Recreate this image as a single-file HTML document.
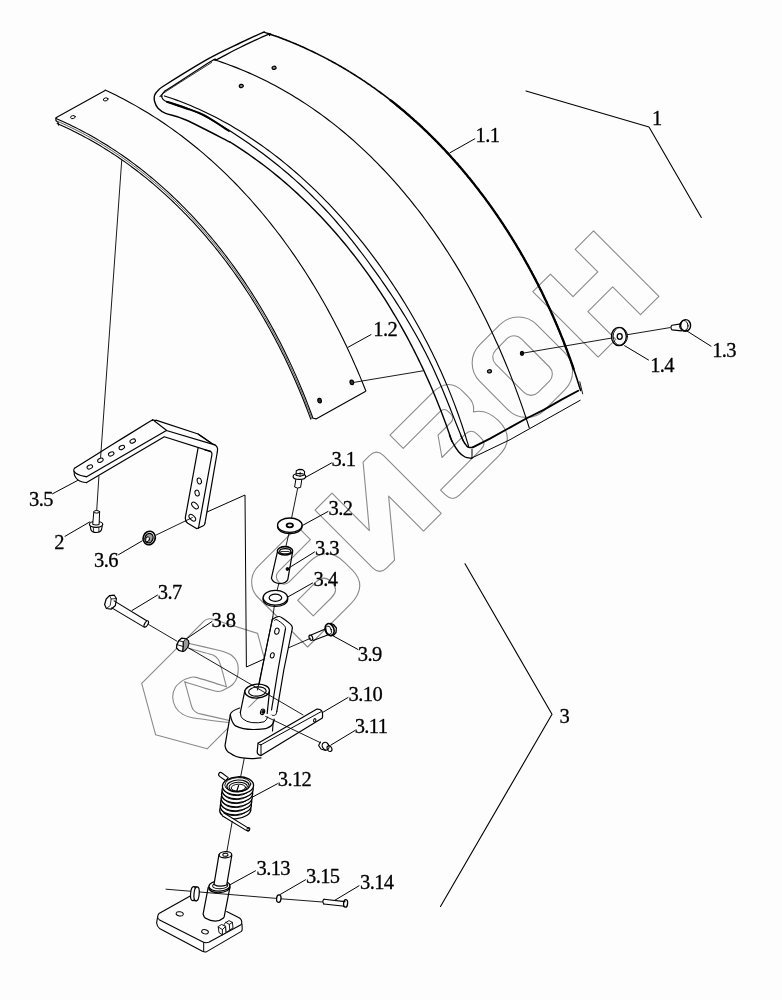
<!DOCTYPE html>
<html><head><meta charset="utf-8"><style>
html,body{margin:0;padding:0;background:#fcfdfc;}
svg{display:block;}
text{font-family:"Liberation Serif",serif;fill:#000;stroke:#000;stroke-width:0.3px;}
svg{will-change:transform;}
.wm{font-family:"Liberation Sans",sans-serif;font-weight:bold;}
</style></head><body>
<svg width="782" height="1000" viewBox="0 0 782 1000" fill="none" stroke-linecap="round" stroke-linejoin="round">
<g stroke="#8a8a8a" stroke-width="1.1" fill="none"><path d="M187.0 643.0 C191.5 644.0 215.3 649.4 220.6 650.7 C225.9 652.0 225.5 652.4 227.0 653.0 C228.5 653.6 230.5 654.4 231.8 655.5 C233.1 656.6 235.6 659.4 236.5 661.0 C237.4 662.6 238.1 665.3 238.2 667.5 C238.3 669.7 237.8 675.1 237.1 677.4 C236.4 679.7 234.2 683.0 232.7 684.5 C231.2 686.0 227.6 688.1 225.5 689.0 C223.4 689.9 222.0 692.2 216.6 691.3 C211.2 690.4 189.0 683.2 184.8 681.9"/><path d="M184.8 681.9 C185.5 684.3 190.6 703.2 191.5 706.0 C192.4 708.8 192.9 709.3 193.5 710.0 C194.1 710.7 196.2 712.4 197.0 712.8 C197.8 713.2 197.7 713.3 201.3 714.1 C204.9 714.9 229.6 720.5 232.7 721.2"/><path d="M188.9 648.4 C191.3 649.1 210.1 653.9 213.0 655.0 C215.9 656.1 217.5 658.3 218.3 659.5 C219.1 660.7 220.2 663.9 221.0 666.6 C221.8 669.3 225.9 684.8 226.4 686.8"/><path d="M226.4 686.8 C222.3 685.5 201.0 678.6 196.0 677.4 C191.0 676.2 190.7 677.6 189.0 678.0 C187.3 678.4 185.2 678.9 183.4 680.1 C181.6 681.3 176.8 684.9 175.4 687.2 C174.0 689.5 172.7 694.5 172.7 697.1 C172.7 699.7 174.1 704.6 175.4 706.9 C176.7 709.2 180.2 712.7 182.5 714.1 C184.8 715.5 185.7 716.5 192.4 717.7 C199.1 718.9 227.3 722.3 232.7 723.0"/></g><g transform="rotate(-45)" stroke="#8a8a8a" stroke-width="1.1" fill="none" stroke-linejoin="round" ><path d="M170.5 583 H195.4 V615 H230.4 V583 H256.4 V675.4 H230.4 V636 H195.4 V675.4 H170.5 Z"/><path d="M95.5 583.0 H124.0 A26.0 26.0 0 0 1 150.0 609.0 V649.0 A26.0 26.0 0 0 1 124.0 675.0 H95.5 A26.0 26.0 0 0 1 69.5 649.0 V609.0 A26.0 26.0 0 0 1 95.5 583.0 Z"/><path d="M103.0 598.0 H119.0 A10.0 10.0 0 0 1 129.0 608.0 V648.0 A10.0 10.0 0 0 1 119.0 658.0 H103.0 A10.0 10.0 0 0 1 93.0 648.0 V608.0 A10.0 10.0 0 0 1 103.0 598.0 Z"/><path d="M-32 583.5 L28 583.5 Q50.5 583.5 50.5 604 L50.5 612 Q50.5 621 43.5 626 Q55 633 55 650 Q55 675 30 675 L-25 675 Q-35 675 -35 665 L-35 658 L22 658 Q30.5 658 30.5 650 L30.5 645 Q30.5 636 22 636 L-11 636 L2 617.5 L20 617.5 Q26 617.5 26 611 L26 608 Q26 602.2 20 602.2 L-32 602.2 Z"/><path d="M-138 583.5 L-114 583.5 L-114 636.4 L-70 583.5 L-61 583.5 Q-51 583.5 -51 593.5 L-51 675 L-76 675 L-76 625.6 L-117 675 L-128 675 Q-138 675 -138 665 Z"/><path d="M-240 605 A22 22 0 0 1 -218 583 L-166 583 Q-162 583 -162 587 L-162 601 L-207 601 A7.5 7.5 0 0 0 -207 616 L-180 616 Q-154 616 -154 642 L-154 652 Q-154 675 -180 675 L-240 675 Z"/><path d="M-214 635 L-188 635 Q-177 635 -177 646 Q-177 657 -188 657 L-214 657 Z"/><path d="M-383 583.4 L-295 583.4 Q-290.5 583.4 -288 587.5 L-265.7 630 L-290 672 Q-292.5 676 -297 676 L-383 676 L-409.5 629.5 Z"/></g>
<path d="M105.16 90.07 L108.86 91.79 L112.54 93.56 L116.20 95.36 L119.83 97.19 L123.45 99.06 L127.03 100.96 L130.60 102.90 L134.14 104.87 L137.67 106.87 L141.16 108.91 L144.64 110.98 L148.09 113.08 L151.53 115.22 L154.93 117.38 L158.32 119.58 L161.68 121.80 L165.03 124.06 L168.34 126.35 L171.64 128.67 L174.91 131.02 L178.16 133.40 L181.39 135.81 L184.60 138.24 L187.78 140.71 L190.94 143.20 L194.08 145.72 L197.20 148.27 L200.29 150.84 L203.36 153.45 L206.41 156.08 L209.44 158.73 L212.44 161.41 L215.42 164.12 L218.38 166.85 L221.32 169.61 L224.23 172.39 L227.13 175.20 L230.00 178.03 L232.84 180.88 L235.67 183.76 L238.47 186.66 L241.25 189.58 L244.01 192.53 L246.74 195.50 L249.45 198.49 L252.15 201.50 L254.81 204.53 L257.46 207.59 L260.08 210.66 L262.68 213.75 L265.26 216.87 L267.82 220.00 L270.35 223.16 L272.86 226.33 L275.35 229.52 L277.82 232.73 L280.27 235.95 L282.69 239.20 L285.09 242.46 L287.47 245.74 L289.82 249.04 L292.15 252.35 L294.47 255.68 L296.75 259.02 L299.02 262.38 L301.27 265.76 L303.49 269.15 L305.69 272.55 L307.87 275.97 L310.02 279.40 L312.15 282.85 L314.26 286.31 L316.35 289.78 L318.42 293.26 L320.46 296.76 L322.49 300.27 L324.49 303.79 L326.46 307.32 L328.42 310.86 L330.35 314.42 L332.26 317.98 L334.15 321.55 L336.02 325.14 L337.86 328.73 L339.69 332.33 L341.49 335.94 L343.27 339.56 L345.02 343.19 L346.76 346.83 L348.47 350.47 L350.16 354.12 L351.83 357.78 L353.47 361.44 L355.09 365.11 L356.70 368.78 L358.28 372.47 L359.83 376.15 L361.37 379.84 L362.88 383.54 L364.37 387.24 L365.84 390.94" stroke="#000000" stroke-width="1.1" fill="none" />
<path d="M365.3 391.4 L316.0 418.9 L313.5 418.2" stroke="#000000" stroke-width="1.1" fill="none" />
<path d="M105.1 90.5 L55.9 117.7 L55.9 120.5 L58.2 122.6 L58.6 125.2" stroke="#000000" stroke-width="1.1" fill="none" />
<path d="M56.04 118.48 L58.85 119.70 L61.64 120.94 L64.41 122.21 L67.18 123.50 L69.93 124.81 L72.67 126.14 L75.39 127.49 L78.10 128.87 L80.80 130.26 L83.49 131.68 L86.16 133.12 L88.82 134.57 L91.47 136.05 L94.10 137.55 L96.72 139.07 L99.33 140.60 L101.92 142.16 L104.51 143.74 L107.07 145.34 L109.63 146.95 L112.17 148.59 L114.70 150.24 L117.21 151.91 L119.72 153.61 L122.21 155.32 L124.68 157.04 L127.15 158.79 L129.59 160.56 L132.03 162.34 L134.45 164.14 L136.86 165.96 L139.26 167.79 L141.64 169.65 L144.01 171.52 L146.37 173.40 L148.72 175.31 L151.05 177.23 L153.36 179.17 L155.67 181.12 L157.96 183.09 L160.24 185.07 L162.50 187.08 L164.75 189.09 L166.99 191.13 L169.21 193.18 L171.42 195.24 L173.62 197.32 L175.80 199.41 L177.98 201.52 L180.13 203.64 L182.28 205.78 L184.41 207.93 L186.53 210.10 L188.63 212.28 L190.72 214.47 L192.80 216.68 L194.86 218.90 L196.91 221.14 L198.95 223.38 L200.97 225.65 L202.98 227.92 L204.98 230.21 L206.96 232.51 L208.93 234.82 L210.89 237.14 L212.83 239.48 L214.76 241.83 L216.68 244.19 L218.58 246.56 L220.47 248.94 L222.35 251.34 L224.21 253.74 L226.06 256.16 L227.89 258.59 L229.71 261.03 L231.52 263.48 L233.31 265.94 L235.10 268.41 L236.86 270.89 L238.62 273.38 L240.36 275.88 L242.08 278.39 L243.80 280.91 L245.50 283.43 L247.18 285.97 L248.85 288.52 L250.51 291.07 L252.16 293.64 L253.79 296.21 L255.41 298.79 L257.01 301.38 L258.60 303.98 L260.18 306.59 L261.74 309.20 L263.29 311.82 L264.83 314.45 L266.35 317.09 L267.86 319.73 L269.35 322.38 L270.83 325.04 L272.30 327.70 L273.75 330.37 L275.19 333.05 L276.62 335.73 L278.03 338.42 L279.43 341.12 L280.82 343.82 L282.19 346.52 L283.54 349.24 L284.89 351.95 L286.22 354.68 L287.53 357.40 L288.84 360.14 L290.12 362.87 L291.40 365.61 L292.66 368.36 L293.91 371.11 L295.14 373.86 L296.36 376.62 L297.56 379.38 L298.76 382.15 L299.93 384.92 L301.10 387.69 L302.25 390.47 L303.38 393.25 L304.51 396.03 L305.61 398.81 L306.71 401.60 L307.79 404.39 L308.86 407.18 L309.91 409.97 L310.95 412.76 L311.97 415.56 L312.98 418.36" stroke="#000000" stroke-width="1.1" fill="none" />
<path d="M58.04 121.53 L60.82 122.76 L63.58 124.02 L66.33 125.29 L69.07 126.59 L71.80 127.91 L74.51 129.25 L77.21 130.61 L79.90 131.99 L82.58 133.40 L85.24 134.82 L87.89 136.26 L90.52 137.73 L93.15 139.21 L95.76 140.72 L98.35 142.24 L100.94 143.79 L103.51 145.35 L106.07 146.94 L108.61 148.54 L111.15 150.16 L113.67 151.81 L116.17 153.47 L118.67 155.14 L121.15 156.84 L123.62 158.56 L126.07 160.29 L128.52 162.04 L130.94 163.81 L133.36 165.60 L135.76 167.41 L138.15 169.23 L140.53 171.07 L142.89 172.93 L145.24 174.80 L147.58 176.69 L149.91 178.60 L152.22 180.53 L154.52 182.47 L156.80 184.42 L159.07 186.40 L161.33 188.39 L163.58 190.39 L165.81 192.41 L168.03 194.45 L170.24 196.50 L172.43 198.57 L174.61 200.65 L176.78 202.74 L178.93 204.85 L181.07 206.98 L183.20 209.12 L185.32 211.27 L187.42 213.44 L189.50 215.62 L191.58 217.82 L193.64 220.03 L195.69 222.25 L197.72 224.49 L199.74 226.74 L201.75 229.00 L203.75 231.28 L205.73 233.56 L207.70 235.87 L209.65 238.18 L211.59 240.50 L213.52 242.84 L215.44 245.19 L217.34 247.55 L219.22 249.92 L221.10 252.31 L222.96 254.70 L224.81 257.11 L226.64 259.53 L228.46 261.95 L230.27 264.39 L232.07 266.84 L233.85 269.30 L235.61 271.77 L237.37 274.25 L239.11 276.74 L240.83 279.24 L242.55 281.75 L244.25 284.27 L245.93 286.80 L247.61 289.33 L249.27 291.88 L250.91 294.43 L252.54 297.00 L254.16 299.57 L255.77 302.15 L257.36 304.74 L258.94 307.33 L260.50 309.94 L262.05 312.55 L263.59 315.17 L265.12 317.79 L266.63 320.43 L268.12 323.07 L269.60 325.72 L271.07 328.37 L272.53 331.03 L273.97 333.70 L275.40 336.38 L276.81 339.06 L278.21 341.74 L279.60 344.44 L280.98 347.13 L282.34 349.84 L283.68 352.55 L285.01 355.26 L286.33 357.98 L287.64 360.70 L288.93 363.43 L290.21 366.17 L291.47 368.90 L292.72 371.64 L293.96 374.39 L295.18 377.14 L296.39 379.90 L297.58 382.65 L298.76 385.41 L299.93 388.18 L301.08 390.95 L302.22 393.72 L303.35 396.49 L304.46 399.27 L305.56 402.05 L306.64 404.83 L307.71 407.61 L308.77 410.40 L309.81 413.18 L310.84 415.97 L311.85 418.76" stroke="#333" stroke-width="0.8" fill="none" />
<path d="M57.15 123.54 L59.91 124.76 L62.67 126.00 L65.41 127.26 L68.13 128.54 L70.84 129.85 L73.55 131.17 L76.23 132.52 L78.91 133.89 L81.57 135.28 L84.22 136.69 L86.86 138.12 L89.49 139.57 L92.10 141.04 L94.70 142.53 L97.29 144.04 L99.86 145.57 L102.42 147.12 L104.97 148.69 L107.51 150.28 L110.03 151.88 L112.54 153.51 L115.04 155.16 L117.53 156.82 L120.00 158.50 L122.46 160.20 L124.91 161.92 L127.34 163.66 L129.76 165.41 L132.17 167.19 L134.57 168.98 L136.95 170.79 L139.32 172.61 L141.68 174.46 L144.02 176.32 L146.36 178.19 L148.67 180.09 L150.98 182.00 L153.27 183.92 L155.55 185.87 L157.82 187.82 L160.08 189.80 L162.32 191.79 L164.55 193.80 L166.76 195.82 L168.96 197.86 L171.15 199.91 L173.33 201.98 L175.49 204.06 L177.64 206.16 L179.78 208.27 L181.91 210.39 L184.02 212.53 L186.12 214.69 L188.20 216.86 L190.27 219.04 L192.33 221.24 L194.38 223.45 L196.41 225.67 L198.43 227.91 L200.44 230.16 L202.43 232.42 L204.41 234.69 L206.38 236.98 L208.33 239.28 L210.27 241.59 L212.20 243.92 L214.12 246.25 L216.02 248.60 L217.90 250.96 L219.78 253.33 L221.64 255.72 L223.49 258.11 L225.32 260.52 L227.14 262.93 L228.95 265.36 L230.75 267.80 L232.53 270.25 L234.30 272.70 L236.05 275.17 L237.79 277.65 L239.52 280.14 L241.24 282.64 L242.94 285.14 L244.63 287.66 L246.30 290.19 L247.96 292.72 L249.61 295.26 L251.24 297.82 L252.86 300.38 L254.47 302.95 L256.07 305.52 L257.65 308.11 L259.21 310.70 L260.77 313.30 L262.31 315.91 L263.83 318.53 L265.35 321.15 L266.85 323.79 L268.33 326.42 L269.80 329.07 L271.26 331.72 L272.71 334.38 L274.14 337.04 L275.56 339.71 L276.96 342.39 L278.35 345.07 L279.73 347.76 L281.09 350.46 L282.44 353.15 L283.78 355.86 L285.10 358.57 L286.41 361.28 L287.71 364.00 L288.99 366.73 L290.25 369.46 L291.51 372.19 L292.75 374.93 L293.98 377.67 L295.19 380.41 L296.39 383.16 L297.57 385.92 L298.75 388.67 L299.90 391.43 L301.05 394.19 L302.18 396.96 L303.29 399.73 L304.40 402.50 L305.49 405.27 L306.56 408.05 L307.62 410.83 L308.67 413.60 L309.70 416.39 L310.72 419.17" stroke="#000000" stroke-width="1.1" fill="none" />
<ellipse cx="105.7" cy="99.4" rx="2.4" ry="1.5" transform="rotate(-15.0 105.7 99.4)" stroke="#000000" stroke-width="0.9" fill="none"/>
<ellipse cx="72.9" cy="117.1" rx="2.4" ry="1.5" transform="rotate(-15.0 72.9 117.1)" stroke="#000000" stroke-width="0.9" fill="none"/>
<ellipse cx="351.8" cy="382.4" rx="1.8" ry="2.3" transform="rotate(-10.0 351.8 382.4)" stroke="#000000" stroke-width="1.2" fill="#333"/>
<ellipse cx="319.6" cy="400.7" rx="1.8" ry="2.3" transform="rotate(-10.0 319.6 400.7)" stroke="#000000" stroke-width="1.2" fill="#333"/>
<path d="M270.9 34.2 C269.9 33.9 266.7 32.8 265.2 32.6 C263.7 32.4 266.2 31.2 262.0 32.9 C257.8 34.6 248.8 38.8 240.0 43.0 C231.2 47.2 221.3 51.5 209.0 58.4 C196.7 65.3 174.4 79.2 166.0 84.5 C157.6 89.8 160.4 88.2 158.5 90.0 C156.6 91.8 155.2 93.4 154.6 95.4 C154.0 97.4 154.1 99.6 154.7 101.8 C155.3 104.0 156.4 106.6 158.2 108.5 C160.0 110.4 161.0 111.5 165.6 113.4 C170.2 115.3 175.3 115.2 186.0 120.0 C196.7 124.8 222.7 138.4 230.0 142.1" stroke="#000000" stroke-width="1.4" fill="none" />
<path d="M229.97 141.97 L233.42 144.15 L236.85 146.36 L240.26 148.59 L243.64 150.86 L247.00 153.16 L250.34 155.48 L253.65 157.83 L256.94 160.22 L260.20 162.63 L263.44 165.06 L266.66 167.53 L269.85 170.02 L273.02 172.54 L276.17 175.09 L279.29 177.66 L282.39 180.26 L285.46 182.89 L288.51 185.54 L291.54 188.22 L294.55 190.92 L297.53 193.64 L300.48 196.40 L303.42 199.17 L306.33 201.97 L309.21 204.80 L312.08 207.64 L314.92 210.51 L317.73 213.41 L320.52 216.32 L323.29 219.26 L326.04 222.22 L328.76 225.21 L331.46 228.21 L334.13 231.24 L336.78 234.28 L339.41 237.35 L342.02 240.44 L344.60 243.55 L347.16 246.67 L349.69 249.82 L352.20 252.99 L354.69 256.18 L357.15 259.38 L359.59 262.61 L362.01 265.85 L364.40 269.11 L366.77 272.39 L369.12 275.69 L371.45 279.00 L373.75 282.33 L376.02 285.68 L378.28 289.04 L380.51 292.42 L382.71 295.82 L384.90 299.23 L387.06 302.65 L389.20 306.09 L391.31 309.55 L393.40 313.02 L395.47 316.51 L397.51 320.01 L399.53 323.52 L401.53 327.05 L403.51 330.59 L405.46 334.14 L407.39 337.70 L409.29 341.28 L411.17 344.87 L413.03 348.47 L414.87 352.09 L416.68 355.71 L418.47 359.35 L420.23 362.99 L421.98 366.65 L423.70 370.32 L425.39 373.99 L427.07 377.68 L428.72 381.37 L430.34 385.08 L431.95 388.79 L433.53 392.52 L435.09 396.25 L436.62 399.98 L438.13 403.73 L439.62 407.48 L441.09 411.24 L442.53 415.01 L443.95 418.79 L445.35 422.57 L446.72 426.35 L448.07 430.15 L449.40 433.95 L450.70 437.75 L451.98 441.56" stroke="#000000" stroke-width="1.4" fill="none" />
<path d="M449.5 435.0 C449.9 436.1 450.7 438.8 452.2 441.6 C453.7 444.4 456.5 449.2 458.6 451.8 C460.7 454.4 462.9 455.9 465.0 457.0 C467.1 458.1 470.3 458.0 471.4 458.2" stroke="#000000" stroke-width="1.4" fill="none" />
<path d="M471.4 458.2 L510.0 439.7 L580.2 400.3" stroke="#000000" stroke-width="1.0" fill="none" />
<path d="M269.6 35.5 C269.2 35.4 272.0 32.8 267.1 34.8 C262.2 36.8 248.4 43.4 240.0 47.5 C231.6 51.6 221.4 57.4 216.7 59.6 C212.0 61.9 219.4 56.3 211.6 61.0 C203.8 65.7 177.9 82.7 170.0 87.8 C162.1 92.9 165.7 90.3 164.3 91.6 C162.9 92.9 161.9 94.1 161.7 95.4 C161.5 96.7 162.1 98.2 163.0 99.3 C163.9 100.4 164.1 100.6 166.9 101.8 C169.7 103.0 177.8 105.7 180.0 106.5" stroke="#000000" stroke-width="1.25" fill="none" />
<path d="M167.00 101.59 L170.94 102.62 L174.83 103.76 L178.68 105.01 L182.49 106.35 L186.26 107.78 L189.99 109.30 L193.69 110.90 L197.35 112.58 L200.98 114.32 L204.57 116.14 L208.14 118.02 L211.69 119.96 L215.20 121.95 L218.70 123.99 L222.17 126.07 L225.62 128.19 L229.05 130.34 L232.47 132.52 L235.87 134.73 L239.25 136.96 L242.62 139.22 L245.97 141.51 L249.30 143.82 L252.61 146.15 L255.91 148.52 L259.19 150.91 L262.45 153.32 L265.68 155.76 L268.90 158.23 L272.10 160.72 L275.28 163.24 L278.44 165.78 L281.57 168.35 L284.68 170.95 L287.78 173.57 L290.84 176.22 L293.89 178.89 L296.91 181.59 L299.91 184.31 L302.88 187.06 L305.83 189.83 L308.76 192.63 L311.65 195.46 L314.53 198.31 L317.37 201.19 L320.19 204.09 L322.99 207.02 L325.75 209.97 L328.49 212.94 L331.21 215.94 L333.90 218.97 L336.57 222.01 L339.21 225.07 L341.83 228.16 L344.43 231.27 L347.00 234.39 L349.56 237.53 L352.09 240.69 L354.60 243.87 L357.10 247.07 L359.57 250.28 L362.03 253.50 L364.47 256.74 L366.89 260.00 L369.29 263.26 L371.68 266.54 L374.05 269.83 L376.41 273.13 L378.75 276.45 L381.08 279.77 L383.39 283.10 L385.68 286.45 L387.96 289.80 L390.22 293.17 L392.47 296.54 L394.69 299.93 L396.90 303.33 L399.08 306.74 L401.24 310.17 L403.39 313.61 L405.51 317.06 L407.60 320.52 L409.68 324.00 L411.72 327.49 L413.75 330.99 L415.75 334.51 L417.72 338.04 L419.66 341.58 L421.58 345.14 L423.47 348.72 L425.33 352.31 L427.16 355.92 L428.96 359.54 L430.73 363.18 L432.46 366.83 L434.17 370.50 L435.84 374.19 L437.48 377.89 L439.10 381.60 L440.69 385.33 L442.26 389.06 L443.82 392.80 L445.35 396.56 L446.88 400.31 L448.39 404.08 L449.90 407.84 L451.41 411.61 L452.91 415.38 L454.41 419.14 L455.92 422.91 L457.43 426.67 L458.95 430.42 L460.49 434.17 L462.04 437.91 L463.60 441.64" stroke="#000000" stroke-width="1.2" fill="none" />
<path d="M166.9 101.8 C169.9 102.8 178.8 105.8 185.0 108.0 C191.2 110.2 196.7 111.4 204.0 115.2 C211.3 119.0 224.8 128.4 229.0 131.0" stroke="#000000" stroke-width="1.9" fill="none" />
<path d="M461.0 436.0 C461.4 436.9 462.8 440.0 463.7 441.6 C464.6 443.2 465.5 444.4 466.3 445.4 C467.1 446.4 467.4 447.1 468.5 447.4 C469.6 447.7 472.0 447.4 472.7 447.4" stroke="#000000" stroke-width="1.4" fill="none" />
<path d="M211.6 62.5 C203.6 67.6 171.7 87.6 163.5 93.2 C155.3 98.8 162.7 95.5 162.5 96.0" stroke="#000000" stroke-width="0.8" fill="none" />
<path d="M164.43 95.96 L168.30 97.23 L172.16 98.54 L175.99 99.90 L179.80 101.31 L183.59 102.77 L187.35 104.27 L191.10 105.81 L194.82 107.41 L198.52 109.04 L202.20 110.72 L205.85 112.44 L209.48 114.20 L213.10 116.00 L216.68 117.85 L220.25 119.73 L223.80 121.66 L227.32 123.62 L230.82 125.62 L234.30 127.66 L237.76 129.74 L241.19 131.85 L244.60 134.00 L247.99 136.18 L251.36 138.40 L254.71 140.65 L258.03 142.94 L261.33 145.26 L264.61 147.61 L267.87 149.99 L271.10 152.40 L274.32 154.84 L277.51 157.31 L280.68 159.81 L283.82 162.34 L286.95 164.90 L290.05 167.49 L293.13 170.10 L296.19 172.74 L299.22 175.41 L302.24 178.10 L305.23 180.82 L308.20 183.57 L311.15 186.34 L314.07 189.13 L316.97 191.95 L319.86 194.79 L322.71 197.66 L325.55 200.55 L328.37 203.46 L331.16 206.40 L333.93 209.35 L336.68 212.33 L339.41 215.33 L342.11 218.35 L344.79 221.40 L347.45 224.46 L350.09 227.54 L352.71 230.64 L355.31 233.76 L357.88 236.90 L360.43 240.06 L362.96 243.23 L365.46 246.43 L367.95 249.63 L370.41 252.86 L372.85 256.10 L375.27 259.36 L377.67 262.64 L380.04 265.93 L382.40 269.23 L384.73 272.55 L387.04 275.88 L389.32 279.23 L391.59 282.59 L393.83 285.96 L396.05 289.35 L398.25 292.75 L400.42 296.17 L402.58 299.60 L404.71 303.04 L406.81 306.49 L408.90 309.96 L410.96 313.44 L412.99 316.94 L415.01 320.45 L417.00 323.97 L418.96 327.50 L420.90 331.04 L422.82 334.60 L424.72 338.17 L426.59 341.75 L428.43 345.34 L430.25 348.95 L432.05 352.57 L433.82 356.20 L435.57 359.84 L437.29 363.49 L438.99 367.15 L440.66 370.83 L442.31 374.52 L443.93 378.22 L445.53 381.92 L447.10 385.64 L448.65 389.37 L450.17 393.12 L451.66 396.87 L453.13 400.63 L454.57 404.40 L455.99 408.19 L457.38 411.98 L458.74 415.79 L460.08 419.60 L461.39 423.42 L462.67 427.26 L463.92 431.10 L465.15 434.96 L466.36 438.82 L467.53 442.69 L468.68 446.57" stroke="#000000" stroke-width="1.15" fill="none" />
<path d="M472.7 447.4 L490.0 438.6 L525.8 418.8 L543.7 409.9 L561.6 399.6 L578.2 390.7" stroke="#000000" stroke-width="1.8" fill="none" />
<path d="M472.0 449.3 L472.0 458.2" stroke="#000000" stroke-width="1.0"/>
<path d="M270.6 34.4 L272.2 34.9 L273.8 35.5 L275.3 36.0 L276.9 36.6 L278.5 37.1 L280.0 37.7 L281.6 38.3 L283.1 38.9 L284.7 39.5 L286.2 40.1 L287.7 40.7 L289.3 41.3 L290.8 41.9 L292.3 42.6 L293.9 43.2 L295.4 43.8 L296.9 44.5 L298.4 45.1 L299.9 45.8 L301.4 46.5 L302.9 47.1 L304.5 47.8 L305.9 48.5 L307.4 49.2 L308.9 49.9 L310.4 50.6 L311.9 51.3 L313.4 52.0 L314.9 52.7 L316.3 53.4 L317.8 54.1 L319.3 54.9 L320.7 55.6 L322.2 56.4 L323.7 57.1 L325.1 57.9 L326.6 58.6 L328.0 59.4 L329.4 60.2 L330.9 60.9 L332.3 61.7 L333.7 62.5 L335.2 63.3 L336.6 64.1 L338.0 64.9 L339.4 65.7 L340.9 66.5 L342.3 67.4 L343.7 68.2 L345.1 69.0 L346.5 69.9 L347.9 70.7 L349.3 71.6 L350.7 72.4 L352.0 73.3 L353.4 74.1 L354.8 75.0 L356.2 75.9 L357.6 76.8 L358.9 77.6 L360.3 78.5 L361.7 79.4 L363.0 80.3 L364.4 81.2 L365.7 82.1 L367.1 83.1 L368.4 84.0 L369.8 84.9 L371.1 85.8 L372.4 86.8 L373.8 87.7 L375.1 88.7 L376.4 89.6 L377.7 90.6 L379.0 91.5 L380.4 92.5 L381.7 93.5 L383.0 94.4 L384.3 95.4 L385.6 96.4 L386.9 97.4 L388.2 98.4 L389.4 99.4 L390.7 100.4 L392.0 101.4 L393.3 102.4 L394.6 103.4 L395.8 104.4 L397.1 105.5 L398.4 106.5 L399.6 107.5 L400.9 108.6 L402.1 109.6 L403.4 110.7 L404.6 111.7 L405.9 112.8 L407.1 113.8 L408.3 114.9 L409.6 116.0 L410.8 117.1 L412.0 118.1 L413.2 119.2 L414.4 120.3 L415.7 121.4 L416.9 122.5 L418.1 123.6 L419.3 124.7 L420.5 125.8 L421.7 126.9 L422.8 128.0 L424.0 129.2 L425.2 130.3 L426.4 131.4 L427.6 132.5 L428.7 133.7 L429.9 134.8 L431.1 136.0 L432.2 137.1 L433.4 138.3 L434.6 139.4 L435.7 140.6 L436.9 141.8 L438.0 142.9 L439.1 144.1 L440.3 145.3 L441.4 146.5 L442.5 147.7 L443.7 148.8 L444.8 150.0 L445.9 151.2 L447.0 152.4 L448.1 153.6 L449.2 154.8 L450.3 156.0 L451.4 157.3 L452.5 158.5 L453.6 159.7 L454.7 160.9 L455.8 162.2 L456.9 163.4 L458.0 164.6 L459.0 165.9 L460.1 167.1 L461.2 168.4 L462.2 169.6 L463.3 170.9 L464.3 172.1 L465.4 173.4 L466.4 174.6 L467.5 175.9 L468.5 177.2 L469.6 178.4 L470.6 179.7 L471.6 181.0 L472.6 182.3 L473.7 183.6 L474.7 184.9 L475.7 186.2 L476.7 187.4 L477.7 188.7 L478.7 190.0 L479.7 191.4 L480.7 192.7 L481.7 194.0 L482.7 195.3 L483.7 196.6 L484.7 197.9 L485.6 199.2 L486.6 200.6 L487.6 201.9 L488.6 203.2 L489.5 204.6 L490.5 205.9 L491.4 207.2 L492.4 208.6 L493.3 209.9 L494.3 211.3 L495.2 212.6 L496.1 214.0 L497.1 215.3 L498.0 216.7 L498.9 218.1 L499.9 219.4 L500.8 220.8 L501.7 222.2 L502.6 223.5 L503.5 224.9 L504.4 226.3 L505.3 227.7 L506.2 229.1 L507.1 230.4 L508.0 231.8 L508.9 233.2 L509.7 234.6 L510.6 236.0 L511.5 237.4 L512.3 238.8 L513.2 240.2 L514.1 241.6 L514.9 243.0 L515.8 244.4 L516.6 245.8 L517.5 247.3 L518.3 248.7 L519.2 250.1 L520.0 251.5 L520.8 252.9 L521.6 254.4 L522.5 255.8 L523.3 257.2 L524.1 258.6 L524.9 260.1 L525.7 261.5 L526.5 263.0 L527.3 264.4 L528.1 265.8 L528.9 267.3 L529.7 268.7 L530.5 270.2 L531.3 271.6 L532.0 273.1 L532.8 274.5 L533.6 276.0 L534.3 277.4 L535.1 278.9 L535.9 280.4 L536.6 281.8 L537.4 283.3 L538.1 284.7 L538.8 286.2 L539.6 287.7 L540.3 289.1 L541.1 290.6 L541.8 292.1 L542.5 293.6 L543.2 295.0 L543.9 296.5 L544.6 298.0 L545.3 299.5 L546.1 301.0 L546.8 302.5 L547.4 303.9 L548.1 305.4 L548.8 306.9 L549.5 308.4 L550.2 309.9 L550.9 311.4 L551.5 312.9 L552.2 314.4 L552.9 315.9 L553.5 317.4 L554.2 318.9 L554.8 320.4 L555.5 321.9 L556.1 323.4 L556.8 324.9 L557.4 326.4 L558.0 327.9 L558.7 329.4 L559.3 330.9 L559.9 332.4 L560.5 333.9 L561.1 335.4 L561.7 336.9 L562.4 338.5 L563.0 340.0 L563.6 341.5 L564.1 343.0 L564.7 344.5 L565.3 346.0 L565.9 347.6 L566.5 349.1 L567.1 350.6 L567.6 352.1 L568.2 353.6 L568.7 355.2 L569.3 356.7 L569.9 358.2 L570.4 359.7 L571.0 361.3 L571.5 362.8 L572.0 364.3 L572.6 365.8 L573.1 367.4 L573.6 368.9 L574.1 370.4 L574.7 372.0 L575.2 373.5 L575.7 375.0 L576.2 376.6 L576.7 378.1 L577.2 379.6 L577.7 381.2 L578.2 382.7 L578.7 384.2 L579.1 385.8 L579.6 387.3 L580.1 388.8 L580.6 390.4" stroke="#000000" stroke-width="1.6" fill="none" />
<path d="M390.7 100.4 L392.0 101.4 L393.3 102.4 L394.6 103.4 L395.8 104.4 L397.1 105.5 L398.4 106.5 L399.6 107.5 L400.9 108.6 L402.1 109.6 L403.4 110.7 L404.6 111.7 L405.9 112.8 L407.1 113.8 L408.3 114.9 L409.6 116.0 L410.8 117.1 L412.0 118.1 L413.2 119.2 L414.4 120.3 L415.7 121.4 L416.9 122.5 L418.1 123.6 L419.3 124.7 L420.5 125.8 L421.7 126.9 L422.8 128.0 L424.0 129.2 L425.2 130.3 L426.4 131.4 L427.6 132.5 L428.7 133.7 L429.9 134.8 L431.1 136.0 L432.2 137.1 L433.4 138.3 L434.6 139.4 L435.7 140.6 L436.9 141.8 L438.0 142.9 L439.1 144.1 L440.3 145.3 L441.4 146.5 L442.5 147.7 L443.7 148.8 L444.8 150.0 L445.9 151.2 L447.0 152.4 L448.1 153.6 L449.2 154.8 L450.3 156.0 L451.4 157.3 L452.5 158.5 L453.6 159.7 L454.7 160.9 L455.8 162.2 L456.9 163.4 L458.0 164.6 L459.0 165.9 L460.1 167.1 L461.2 168.4 L462.2 169.6 L463.3 170.9 L464.3 172.1 L465.4 173.4 L466.4 174.6 L467.5 175.9 L468.5 177.2 L469.6 178.4 L470.6 179.7 L471.6 181.0 L472.6 182.3 L473.7 183.6 L474.7 184.9 L475.7 186.2 L476.7 187.4 L477.7 188.7 L478.7 190.0 L479.7 191.4 L480.7 192.7 L481.7 194.0 L482.7 195.3 L483.7 196.6 L484.7 197.9 L485.6 199.2 L486.6 200.6 L487.6 201.9 L488.6 203.2 L489.5 204.6 L490.5 205.9 L491.4 207.2 L492.4 208.6 L493.3 209.9 L494.3 211.3 L495.2 212.6 L496.1 214.0 L497.1 215.3 L498.0 216.7 L498.9 218.1 L499.9 219.4 L500.8 220.8 L501.7 222.2 L502.6 223.5 L503.5 224.9 L504.4 226.3 L505.3 227.7 L506.2 229.1 L507.1 230.4 L508.0 231.8 L508.9 233.2 L509.7 234.6 L510.6 236.0 L511.5 237.4 L512.3 238.8 L513.2 240.2 L514.1 241.6 L514.9 243.0 L515.8 244.4 L516.6 245.8 L517.5 247.3 L518.3 248.7 L519.2 250.1 L520.0 251.5 L520.8 252.9 L521.6 254.4 L522.5 255.8 L523.3 257.2 L524.1 258.6 L524.9 260.1 L525.7 261.5 L526.5 263.0 L527.3 264.4 L528.1 265.8 L528.9 267.3 L529.7 268.7 L530.5 270.2 L531.3 271.6 L532.0 273.1 L532.8 274.5 L533.6 276.0 L534.3 277.4 L535.1 278.9 L535.9 280.4 L536.6 281.8 L537.4 283.3 L538.1 284.7 L538.8 286.2 L539.6 287.7 L540.3 289.1 L541.1 290.6 L541.8 292.1 L542.5 293.6 L543.2 295.0 L543.9 296.5 L544.6 298.0 L545.3 299.5 L546.1 301.0 L546.8 302.5 L547.4 303.9 L548.1 305.4 L548.8 306.9 L549.5 308.4 L550.2 309.9 L550.9 311.4 L551.5 312.9 L552.2 314.4 L552.9 315.9 L553.5 317.4 L554.2 318.9 L554.8 320.4 L555.5 321.9 L556.1 323.4 L556.8 324.9 L557.4 326.4 L558.0 327.9 L558.7 329.4 L559.3 330.9 L559.9 332.4 L560.5 333.9 L561.1 335.4 L561.7 336.9 L562.4 338.5 L563.0 340.0 L563.6 341.5 L564.1 343.0 L564.7 344.5 L565.3 346.0 L565.9 347.6 L566.5 349.1 L567.1 350.6 L567.6 352.1 L568.2 353.6 L568.7 355.2 L569.3 356.7 L569.9 358.2 L570.4 359.7 L571.0 361.3 L571.5 362.8 L572.0 364.3 L572.6 365.8 L573.1 367.4 L573.6 368.9" stroke="#000000" stroke-width="2.3" fill="none" />
<path d="M579.8 381.7 L582.7 393.9" stroke="#000000" stroke-width="0.9" fill="none" />
<path d="M214.33 59.72 L218.27 61.02 L222.19 62.36 L226.09 63.74 L229.96 65.17 L233.80 66.63 L237.63 68.13 L241.42 69.68 L245.20 71.26 L248.95 72.89 L252.68 74.55 L256.38 76.25 L260.06 77.99 L263.72 79.76 L267.35 81.58 L270.96 83.43 L274.55 85.32 L278.11 87.24 L281.65 89.20 L285.17 91.19 L288.66 93.23 L292.13 95.29 L295.57 97.39 L299.00 99.52 L302.40 101.69 L305.77 103.89 L309.12 106.13 L312.45 108.39 L315.76 110.69 L319.04 113.02 L322.30 115.39 L325.54 117.78 L328.75 120.21 L331.94 122.66 L335.11 125.15 L338.25 127.66 L341.38 130.21 L344.47 132.78 L347.55 135.38 L350.60 138.02 L353.63 140.68 L356.64 143.36 L359.62 146.08 L362.59 148.82 L365.52 151.59 L368.44 154.38 L371.33 157.20 L374.20 160.04 L377.05 162.91 L379.88 165.81 L382.68 168.73 L385.46 171.67 L388.22 174.64 L390.95 177.63 L393.66 180.64 L396.35 183.68 L399.02 186.74 L401.67 189.82 L404.29 192.92 L406.89 196.05 L409.47 199.19 L412.03 202.35 L414.56 205.54 L417.07 208.74 L419.56 211.97 L422.03 215.21 L424.47 218.47 L426.90 221.75 L429.30 225.05 L431.67 228.36 L434.03 231.70 L436.37 235.05 L438.68 238.41 L440.97 241.79 L443.24 245.19 L445.48 248.61 L447.71 252.03 L449.91 255.48 L452.09 258.94 L454.25 262.41 L456.39 265.89 L458.51 269.39 L460.60 272.90 L462.67 276.43 L464.72 279.96 L466.75 283.51 L468.76 287.07 L470.75 290.65 L472.71 294.23 L474.65 297.82 L476.57 301.43 L478.47 305.04 L480.35 308.66 L482.21 312.29 L484.04 315.94 L485.85 319.59 L487.65 323.24 L489.42 326.91 L491.17 330.58 L492.89 334.26 L494.60 337.95 L496.28 341.65 L497.95 345.35 L499.59 349.05 L501.21 352.76 L502.81 356.48 L504.39 360.20 L505.94 363.93 L507.48 367.65 L508.99 371.39 L510.49 375.13 L511.96 378.86 L513.41 382.61 L514.84 386.35 L516.25 390.10 L517.64 393.85 L519.00 397.60 L520.35 401.35 L521.67 405.10 L522.98 408.85 L524.26 412.60 L525.52 416.35 L526.76 420.10 L527.98 423.85 L529.18 427.60" stroke="#000000" stroke-width="1.15" fill="none" />
<ellipse cx="274.1" cy="67.8" rx="2.0" ry="1.6" transform="rotate(-15.0 274.1 67.8)" stroke="#000000" stroke-width="1.2" fill="#888"/>
<ellipse cx="241.3" cy="86.0" rx="2.0" ry="1.6" transform="rotate(-15.0 241.3 86.0)" stroke="#000000" stroke-width="1.2" fill="#888"/>
<ellipse cx="489.5" cy="371.3" rx="2.0" ry="1.6" transform="rotate(-15.0 489.5 371.3)" stroke="#000000" stroke-width="1.2" fill="#888"/>
<ellipse cx="522.0" cy="353.3" rx="1.6" ry="2.0" transform="rotate(0.0 522.0 353.3)" stroke="#000000" stroke-width="1.2" fill="#222"/>
<path d="M526.0 91.0 L649.0 127.0 L701.3 217.5" stroke="#000000" stroke-width="1.1" fill="none" />
<path d="M449.9 152.8 L474.8 138.8" stroke="#000000" stroke-width="1.0"/>
<path d="M348.0 347.3 L371.0 334.6" stroke="#000000" stroke-width="1.0"/>
<path d="M353.8 382.4 L423.1 370.8" stroke="#000000" stroke-width="0.9"/>
<path d="M522.0 353.3 L612.0 338.0" stroke="#000000" stroke-width="0.9"/>
<path d="M627.4 334.7 L670.0 327.6" stroke="#000000" stroke-width="0.9"/>
<path d="M624.6 345.7 L648.5 360.0" stroke="#000000" stroke-width="1.0"/>
<path d="M685.5 330.1 L711.0 346.2" stroke="#000000" stroke-width="1.0"/>
<ellipse cx="618.9" cy="336.5" rx="7.4" ry="9.2" transform="rotate(0.0 618.9 336.5)" stroke="#000000" stroke-width="1.3" fill="none"/>
<ellipse cx="620.3" cy="336.4" rx="7.2" ry="9.0" transform="rotate(0.0 620.3 336.4)" stroke="#000000" stroke-width="0.9" fill="none"/>
<ellipse cx="619.7" cy="336.5" rx="2.5" ry="2.8" transform="rotate(0.0 619.7 336.5)" stroke="#000000" stroke-width="1.3" fill="none"/>
<path d="M681 323.9 L672 325.2 Q669.8 327.3 672 329.9 L681.5 330.9" stroke="#000000" stroke-width="1.1" fill="none" />
<ellipse cx="685.6" cy="325.4" rx="5.0" ry="5.8" transform="rotate(0.0 685.6 325.4)" stroke="#000000" stroke-width="1.4" fill="none"/>
<ellipse cx="683.8" cy="325.8" rx="4.2" ry="5.3" transform="rotate(0.0 683.8 325.8)" stroke="#000000" stroke-width="1.0" fill="none"/>
<path d="M74.5 468.2 C80.8 464.3 99.5 452.6 112.0 444.8 C124.5 437.1 142.6 425.8 149.3 421.7 C156.0 417.6 151.0 420.5 152.2 420.3 C153.4 420.1 155.9 420.4 156.6 420.4" stroke="#000000" stroke-width="1.2" fill="none" />
<path d="M156.6 420.4 L198.1 434.0 L211.4 443.2" stroke="#000000" stroke-width="1.2" fill="none" />
<path d="M198.1 434.0 C200.3 435.5 208.5 441.3 211.4 443.2 C214.3 445.1 214.5 444.4 215.5 445.3 C216.5 446.2 217.2 447.3 217.5 448.4 C217.8 449.5 217.3 451.4 217.3 452.0" stroke="#000000" stroke-width="1.2" fill="none" />
<path d="M217.3 452.0 L205.0 523.0" stroke="#000000" stroke-width="1.2" fill="none" />
<path d="M154.1 420.7 L166.4 430.2" stroke="#000000" stroke-width="1.1"/>
<path d="M86.6 476.8 L166.4 430.5 L211.4 443.8 L214.5 445.0" stroke="#000000" stroke-width="1.2" fill="none" />
<path d="M86.6 482.6 L164.3 436.8 L210.4 451.4" stroke="#000000" stroke-width="1.2" fill="none" />
<path d="M205.0 450.0 C205.9 450.2 209.2 450.8 210.4 451.4 C211.6 452.0 211.7 452.6 211.9 453.5 C212.1 454.4 211.6 456.4 211.5 457.0" stroke="#000000" stroke-width="1.2" fill="none" />
<path d="M211.5 457.0 L198.5 528.0" stroke="#000000" stroke-width="1.2" fill="none" />
<path d="M198.1 447.9 L185.4 517.2 Q184.9 521.4 187.8 523.3 L196.5 528.6 L198.5 528" stroke="#000000" stroke-width="1.2" fill="none" />
<path d="M198.5 528 L203.3 525.8 Q204.8 525 205 523" stroke="#000000" stroke-width="1.2" fill="none" />
<path d="M74.5 468.2 C74.4 468.6 73.5 469.7 73.7 470.5 C73.9 471.3 74.5 472.2 75.5 473.0 C76.5 473.8 78.2 474.6 80.0 475.2 C81.8 475.8 85.5 476.5 86.6 476.8" stroke="#000000" stroke-width="1.1" fill="none" />
<path d="M74.2 471.5 C74.3 472.2 74.0 474.1 74.6 475.5 C75.2 476.9 76.7 478.9 78.0 480.0 C79.3 481.1 81.1 481.6 82.5 482.0 C83.9 482.4 85.9 482.5 86.6 482.6" stroke="#000000" stroke-width="1.1" fill="none" />
<ellipse cx="89.8" cy="466.9" rx="2.9" ry="1.9" transform="rotate(-25.0 89.8 466.9)" stroke="#000000" stroke-width="1.0" fill="none"/>
<ellipse cx="100.4" cy="460.3" rx="2.9" ry="1.9" transform="rotate(-25.0 100.4 460.3)" stroke="#000000" stroke-width="1.0" fill="none"/>
<ellipse cx="111.2" cy="453.9" rx="2.9" ry="1.9" transform="rotate(-25.0 111.2 453.9)" stroke="#000000" stroke-width="1.0" fill="none"/>
<ellipse cx="121.8" cy="447.5" rx="2.9" ry="1.9" transform="rotate(-25.0 121.8 447.5)" stroke="#000000" stroke-width="1.0" fill="none"/>
<ellipse cx="132.7" cy="441.1" rx="2.9" ry="1.9" transform="rotate(-25.0 132.7 441.1)" stroke="#000000" stroke-width="1.0" fill="none"/>
<ellipse cx="199.3" cy="481.0" rx="2.1" ry="3.0" transform="rotate(-15.0 199.3 481.0)" stroke="#000000" stroke-width="1.0" fill="none"/>
<ellipse cx="197.1" cy="493.1" rx="2.1" ry="3.0" transform="rotate(-15.0 197.1 493.1)" stroke="#000000" stroke-width="1.0" fill="none"/>
<ellipse cx="195.0" cy="505.5" rx="2.3" ry="4.1" transform="rotate(-45.0 195.0 505.5)" stroke="#000000" stroke-width="1.0" fill="none"/>
<ellipse cx="192.3" cy="517.8" rx="2.3" ry="4.1" transform="rotate(-45.0 192.3 517.8)" stroke="#000000" stroke-width="1.0" fill="none"/>
<path d="M121.7 160.6 L100.6 457.5" stroke="#000000" stroke-width="0.9"/>
<path d="M98.9 476.5 L96.7 510.5" stroke="#000000" stroke-width="0.9"/>
<path d="M52.5 493.8 L77.5 480.5" stroke="#000000" stroke-width="1.0"/>
<path d="M207.0 512.0 L245.0 495.0 L246.4 667.0 L271.0 656.0" stroke="#000000" stroke-width="1.0" fill="none" />
<path d="M156.0 535.1 L192.3 517.6" stroke="#000000" stroke-width="0.9"/>
<path d="M142.1 540.9 L118.5 554.7" stroke="#000000" stroke-width="1.0"/>
<path d="M89.8 521.9 L65.0 536.3" stroke="#000000" stroke-width="1.0"/>
<path d="M90.2 525.5 L90.8 529.5 Q92 532.5 96.2 532.5 Q100.5 532.3 101.6 529.5 L102.2 525.8" stroke="#000000" stroke-width="1.1" fill="#fcfdfc" />
<path d="M93.3 527.2 L93.6 531.5 M98.8 527.3 L98.9 532" stroke="#000000" stroke-width="0.8" fill="none" />
<ellipse cx="96.1" cy="524.3" rx="6.7" ry="3.0" transform="rotate(0.0 96.1 524.3)" stroke="#000000" stroke-width="1.2" fill="#fcfdfc"/>
<path d="M93.8 512 L92.7 524.4 Q96 525.6 99.1 524.6 L99.6 512 Z" stroke="#000000" stroke-width="1.0" fill="#fcfdfc" />
<ellipse cx="96.7" cy="511.8" rx="2.9" ry="1.3" transform="rotate(0.0 96.7 511.8)" stroke="#000000" stroke-width="1.0" fill="#fcfdfc"/>
<ellipse cx="149.2" cy="538.0" rx="6.0" ry="6.8" transform="rotate(20.0 149.2 538.0)" stroke="#000000" stroke-width="1.6" fill="#fcfdfc"/>
<ellipse cx="149.0" cy="538.2" rx="4.0" ry="4.8" transform="rotate(20.0 149.0 538.2)" stroke="#000000" stroke-width="1.3" fill="#9a9a9a"/>
<ellipse cx="147.6" cy="539.2" rx="1.8" ry="2.5" transform="rotate(20.0 147.6 539.2)" stroke="#000000" stroke-width="0.9" fill="#fcfdfc"/>
<path d="M296.3 470.8 L298.8 469.4 L302.6 469.6 L304.6 471.6 L304.4 475.0 L300.0 476.2 L296.0 475.2 L296.3 470.8" stroke="#000000" stroke-width="1.1" fill="none" />
<path d="M300.0 476.2 L300.2 472.3" stroke="#000000" stroke-width="0.8"/>
<ellipse cx="299.4" cy="476.4" rx="6.3" ry="2.9" transform="rotate(0.0 299.4 476.4)" stroke="#000000" stroke-width="1.2" fill="none"/>
<path d="M295.8 479.6 L294.6 487 Q297.4 489 300.6 487.4 L301.8 479.6" stroke="#000000" stroke-width="1.0" fill="none" />
<path d="M305.8 477.2 L331.5 463.0" stroke="#000000" stroke-width="1.0"/>
<path d="M297.6 488.6 L290.6 523.0" stroke="#000000" stroke-width="0.9"/>
<ellipse cx="289.8" cy="526.6" rx="12.3" ry="7.1" transform="rotate(0.0 289.8 526.6)" stroke="#000000" stroke-width="1.2" fill="none"/>
<ellipse cx="289.8" cy="525.2" rx="12.3" ry="7.2" transform="rotate(0.0 289.8 525.2)" stroke="#000000" stroke-width="1.3" fill="#fcfdfc"/>
<ellipse cx="289.8" cy="525.3" rx="3.2" ry="2.0" transform="rotate(0.0 289.8 525.3)" stroke="#000000" stroke-width="1.8" fill="none"/>
<path d="M302.2 525.6 L328.0 511.5" stroke="#000000" stroke-width="1.0"/>
<path d="M289.0 532.8 L285.9 546.6" stroke="#000000" stroke-width="0.9"/>
<path d="M277.4 551.8 L271.4 578.2 Q273 582.8 279.5 583.6 Q286 583.6 287.8 579.6 L292.6 551.8" stroke="#000000" stroke-width="1.2" fill="none" />
<ellipse cx="285.0" cy="550.8" rx="7.6" ry="4.2" transform="rotate(0.0 285.0 550.8)" stroke="#000000" stroke-width="1.6" fill="#fcfdfc"/>
<ellipse cx="285.2" cy="551.2" rx="5.6" ry="2.6" transform="rotate(0.0 285.2 551.2)" stroke="#000000" stroke-width="1.1" fill="none"/>
<path d="M281 551.5 L289 551.5" stroke="#000000" stroke-width="0.8" fill="none" />
<ellipse cx="287.4" cy="569.0" rx="1.3" ry="1.5" transform="rotate(0.0 287.4 569.0)" stroke="#000000" stroke-width="1.0" fill="#111"/>
<path d="M287.8 568.6 L314.5 552.0" stroke="#000000" stroke-width="1.0"/>
<path d="M278.8 583.6 L276.8 591.5" stroke="#000000" stroke-width="0.9"/>
<ellipse cx="275.4" cy="599.4" rx="12.3" ry="7.1" transform="rotate(0.0 275.4 599.4)" stroke="#000000" stroke-width="1.2" fill="none"/>
<ellipse cx="275.4" cy="597.8" rx="12.3" ry="7.4" transform="rotate(0.0 275.4 597.8)" stroke="#000000" stroke-width="1.3" fill="#fcfdfc"/>
<ellipse cx="275.4" cy="597.8" rx="6.3" ry="3.6" transform="rotate(0.0 275.4 597.8)" stroke="#000000" stroke-width="1.2" fill="none"/>
<path d="M287.8 597.0 L312.6 583.0" stroke="#000000" stroke-width="1.0"/>
<path d="M274.4 605.4 L272.8 617.0" stroke="#000000" stroke-width="0.9"/>
<path d="M272.3 619.4 L279.2 616.5 L289.5 623.4 L292.4 628.0 L276.8 711.5 L271.5 715.0 L262.0 712.0 L258.8 686.0 L261.9 670.0Z" stroke="none" stroke-width="0" fill="#fcfdfc" />
<path d="M272.3 619.4 C272.9 619.0 274.9 617.8 276.0 617.3 C277.1 616.8 278.2 616.4 279.2 616.5 C280.2 616.6 280.3 616.6 282.0 617.8 C283.7 618.9 287.9 622.1 289.5 623.4 C291.1 624.7 291.1 624.8 291.6 625.6 C292.1 626.4 292.3 627.6 292.4 628.0" stroke="#000000" stroke-width="1.2" fill="none" />
<path d="M272.3 619.4 L261.9 670.0 L258.8 686.0" stroke="#000000" stroke-width="1.2" fill="none" />
<path d="M274.5 620.5 C274.9 620.4 275.4 619.0 277.0 619.8 C278.6 620.6 282.9 624.0 284.3 625.5 C285.7 627.0 285.3 628.1 285.5 628.6" stroke="#000000" stroke-width="1.0" fill="none" />
<path d="M285.5 628.6 L278.0 670.0 L271.5 710.0" stroke="#000000" stroke-width="1.2" fill="none" />
<path d="M292.4 628.0 L283.8 670.0 L276.8 711.5" stroke="#000000" stroke-width="1.2" fill="none" />
<path d="M268.0 713.5 C268.6 713.8 270.3 715.0 271.5 715.2 C272.7 715.5 274.5 715.6 275.4 715.0 C276.3 714.4 276.6 712.1 276.8 711.5" stroke="#000000" stroke-width="1.0" fill="none" />
<ellipse cx="276.9" cy="631.2" rx="2.2" ry="3.1" transform="rotate(15.0 276.9 631.2)" stroke="#000000" stroke-width="1.0" fill="none"/>
<ellipse cx="272.3" cy="655.4" rx="1.9" ry="2.7" transform="rotate(15.0 272.3 655.4)" stroke="#000000" stroke-width="1.0" fill="none"/>
<path d="M289.0 647.6 L310.5 638.3" stroke="#000000" stroke-width="0.9"/>
<path d="M311.1 634.9 L327 628.2 M313.2 640.5 L329 634.4" stroke="#000000" stroke-width="1.1" fill="none" />
<ellipse cx="310.9" cy="637.7" rx="1.7" ry="2.7" transform="rotate(-20.0 310.9 637.7)" stroke="#000000" stroke-width="1.2" fill="none"/>
<path d="M330.5 623.3 L333.5 624.5 L336.4 628 L336 632.5 L333.5 635.4 L331 635.6" stroke="#000000" stroke-width="1.3" fill="none" />
<ellipse cx="329.6" cy="629.6" rx="4.3" ry="6.2" transform="rotate(-18.0 329.6 629.6)" stroke="#000000" stroke-width="1.6" fill="#fcfdfc"/>
<ellipse cx="328.7" cy="630.2" rx="2.6" ry="4.4" transform="rotate(-18.0 328.7 630.2)" stroke="#000000" stroke-width="0.9" fill="none"/>
<path d="M331.5 635.0 L358.0 649.5" stroke="#000000" stroke-width="1.0"/>
<path d="M106.2 599.0 L109.5 595.6 L114.3 595.2 L116.4 598.5 L115.4 605.5 L111.2 609.2 L106.4 608.5 L104.6 604.5 L106.2 599.0" stroke="#000000" stroke-width="1.2" fill="none" />
<path d="M109.5 595.6 L111.2 599 L110.2 605.6 L106.4 608.5 M111.2 599 L116.4 598.5" stroke="#000000" stroke-width="0.8" fill="none" />
<path d="M114.1 600.9 L146.7 620.7" stroke="#000000" stroke-width="1.1"/>
<path d="M111.8 607.9 L144.1 627.1" stroke="#000000" stroke-width="1.1"/>
<ellipse cx="146.3" cy="623.9" rx="1.6" ry="3.5" transform="rotate(30.0 146.3 623.9)" stroke="#000000" stroke-width="1.1" fill="none"/>
<path d="M132.0 610.5 L157.5 595.1" stroke="#000000" stroke-width="1.0"/>
<path d="M178.8 640.7 L181.5 638.2 L185.7 638.6 L188.4 640.7 L188.8 643.8 L187.6 647.3 L184.6 650.7 L182.7 651.5 L178.8 650.3 L176.5 648.0 L176.9 644.6Z" stroke="#000000" stroke-width="1.3" fill="#fcfdfc" />
<path d="M183.4 641.8 L185.7 638.6 L188.4 640.7 L188.8 643.8 L187.6 647.3 L184.6 650.7 L182.7 651.5 L183.2 646.5Z" stroke="#000000" stroke-width="0.8" fill="#9a9a9a" />
<path d="M178.8 640.7 L183.4 641.8 L183.2 646.5 L182.7 651.5 M176.9 644.6 L183.2 646.5" stroke="#000000" stroke-width="0.9" fill="none" />
<path d="M186.5 638.8 L212.0 621.5" stroke="#000000" stroke-width="1.0"/>
<path d="M230.3 714.9 L225 745.6 Q226 751.5 230.3 753.3 Q236 757.5 242.6 757.9 Q249 758.8 253.4 758.6 Q258 758.3 261 757.9 L273 731 L274.1 719 Q271 711 257 707 Q238 707 230.3 714.9 Z" stroke="none" stroke-width="0" fill="#fcfdfc" />
<path d="M230.3 714.9 L225 745.6 Q226 751.5 230.3 753.3 Q236 757.5 242.6 757.9 Q249 758.8 253.4 758.6 Q258 758.3 261 757.9" stroke="#000000" stroke-width="1.2" fill="none" />
<path d="M230.3 714.9 Q230.5 711 239.6 708" stroke="#000000" stroke-width="1.1" fill="none" />
<path d="M230.3 714.9 Q231.5 722 235 725.6 Q243 729.6 253.4 729.5 Q262 729.5 265.6 728.7 Q271 726.8 272.5 724.1 Q274.4 721.5 274.1 719" stroke="#000000" stroke-width="1.2" fill="none" />
<path d="M240.3 712.3 Q240.6 717.3 242.6 718.7 Q246.5 722 251.8 722.6 Q259 723.3 264.1 721.8 Q267 720 267.6 717" stroke="#000000" stroke-width="1.0" fill="none" />
<path d="M273.3 721.0 L272.5 731.0" stroke="#000000" stroke-width="1.1"/>
<path d="M244.9 690.3 L240.3 712.6 M269.5 691.3 L267.2 713.4" stroke="#000000" stroke-width="1.2" fill="none" />
<ellipse cx="257.2" cy="691.1" rx="12.3" ry="6.9" transform="rotate(-4.0 257.2 691.1)" stroke="#000000" stroke-width="1.3" fill="#fcfdfc"/>
<ellipse cx="257.4" cy="691.5" rx="8.8" ry="4.6" transform="rotate(-4.0 257.4 691.5)" stroke="#000000" stroke-width="1.1" fill="none"/>
<ellipse cx="262.6" cy="711.8" rx="2.0" ry="2.8" transform="rotate(20.0 262.6 711.8)" stroke="#000000" stroke-width="1.1" fill="none"/>
<ellipse cx="262.9" cy="711.8" rx="1.0" ry="1.5" transform="rotate(20.0 262.9 711.8)" stroke="#000000" stroke-width="0.9" fill="#222"/>
<path d="M258 743.3 L317 709.1 Q320.5 709 321.7 710.8 Q323 713 322.4 718 L261 755.6 Q257 754.5 257.2 751.7 L258 743.3" stroke="#000000" stroke-width="1.2" fill="#fcfdfc" />
<path d="M261 744.8 L320.9 711.8 M258 743.3 Q259 744.8 261 744.8 L261 755.6" stroke="#000000" stroke-width="1.0" fill="none" />
<ellipse cx="314.7" cy="720.3" rx="1.1" ry="1.7" transform="rotate(20.0 314.7 720.3)" stroke="#000000" stroke-width="1.0" fill="none"/>
<path d="M265.6 716.4 L320.0 742.5" stroke="#000000" stroke-width="0.9"/>
<path d="M322.5 712.5 L348.0 697.5" stroke="#000000" stroke-width="1.0"/>
<path d="M320.5 742 L318.6 745.5 L321 749 L325.5 750.5" stroke="#000000" stroke-width="1.1" fill="none" />
<ellipse cx="325.6" cy="746.2" rx="3.2" ry="4.0" transform="rotate(-30.0 325.6 746.2)" stroke="#000000" stroke-width="1.2" fill="none"/>
<ellipse cx="329.5" cy="748.6" rx="2.2" ry="3.0" transform="rotate(-30.0 329.5 748.6)" stroke="#000000" stroke-width="1.1" fill="none"/>
<path d="M331.0 745.0 L355.0 730.5" stroke="#000000" stroke-width="1.0"/>
<path d="M244.2 758.6 L237.9 791.0" stroke="#000000" stroke-width="0.9"/>
<path d="M272.8 617.0 L257.5 690.0" stroke="#000000" stroke-width="0.9"/>
<text x="651.9" y="125.3" font-size="20.5" letter-spacing="-0.6">1</text>
<text x="475.6" y="141.8" font-size="20.5" letter-spacing="-0.6">1.1</text>
<text x="373.3" y="335.8" font-size="20.5" letter-spacing="-0.6">1.2</text>
<text x="712.2" y="356.8" font-size="20.5" letter-spacing="-0.6">1.3</text>
<text x="650.2" y="371.5" font-size="20.5" letter-spacing="-0.6">1.4</text>
<text x="331.5" y="466.0" font-size="20.5" letter-spacing="-0.6">3.1</text>
<text x="328.5" y="514.5" font-size="20.5" letter-spacing="-0.6">3.2</text>
<text x="315.0" y="555.0" font-size="20.5" letter-spacing="-0.6">3.3</text>
<text x="313.6" y="585.6" font-size="20.5" letter-spacing="-0.6">3.4</text>
<text x="29.0" y="506.0" font-size="20.5" letter-spacing="-0.6">3.5</text>
<text x="54.2" y="548.5" font-size="20.5" letter-spacing="-0.6">2</text>
<text x="94.0" y="567.3" font-size="20.5" letter-spacing="-0.6">3.6</text>
<text x="157.8" y="598.5" font-size="20.5" letter-spacing="-0.6">3.7</text>
<text x="211.5" y="627.3" font-size="20.5" letter-spacing="-0.6">3.8</text>
<text x="357.8" y="661.0" font-size="20.5" letter-spacing="-0.6">3.9</text>
<text x="348.6" y="700.5" font-size="20.5" letter-spacing="-0.6">3.10</text>
<text x="354.7" y="732.8" font-size="20.5" letter-spacing="-0.6">3.11</text>
<text x="277.8" y="786.0" font-size="20.5" letter-spacing="-0.6">3.12</text>
<text x="256.5" y="874.8" font-size="20.5" letter-spacing="-0.6">3.13</text>
<text x="306.0" y="882.6" font-size="20.5" letter-spacing="-0.6">3.15</text>
<text x="360.0" y="888.5" font-size="20.5" letter-spacing="-0.6">3.14</text>
<text x="559.5" y="722.8" font-size="20.5" letter-spacing="-0.6">3</text>
<path d="M219.5 772.6 Q217.6 774.5 219.5 776.4 L225.8 780.8 L228.2 777.6 L222 773 Q220.6 772.1 219.5 772.6" stroke="#000000" stroke-width="1.1" fill="#fcfdfc" />
<ellipse cx="235.3" cy="809.8" rx="15.6" ry="9.0" transform="rotate(-3.0 235.3 809.8)" stroke="#000000" stroke-width="1.3" fill="#fcfdfc"/>
<ellipse cx="235.1" cy="808.6" rx="13.0" ry="7.0" transform="rotate(-3.0 235.1 808.6)" stroke="#000000" stroke-width="0.9" fill="none"/>
<ellipse cx="235.8" cy="805.8" rx="15.6" ry="9.0" transform="rotate(-3.0 235.8 805.8)" stroke="#000000" stroke-width="1.3" fill="#fcfdfc"/>
<ellipse cx="235.6" cy="804.6" rx="13.0" ry="7.0" transform="rotate(-3.0 235.6 804.6)" stroke="#000000" stroke-width="0.9" fill="none"/>
<ellipse cx="236.2" cy="801.8" rx="15.6" ry="9.0" transform="rotate(-3.0 236.2 801.8)" stroke="#000000" stroke-width="1.3" fill="#fcfdfc"/>
<ellipse cx="236.0" cy="800.6" rx="13.0" ry="7.0" transform="rotate(-3.0 236.0 800.6)" stroke="#000000" stroke-width="0.9" fill="none"/>
<ellipse cx="236.7" cy="797.8" rx="15.6" ry="9.0" transform="rotate(-3.0 236.7 797.8)" stroke="#000000" stroke-width="1.3" fill="#fcfdfc"/>
<ellipse cx="236.5" cy="796.6" rx="13.0" ry="7.0" transform="rotate(-3.0 236.5 796.6)" stroke="#000000" stroke-width="0.9" fill="none"/>
<ellipse cx="237.1" cy="793.8" rx="15.6" ry="9.0" transform="rotate(-3.0 237.1 793.8)" stroke="#000000" stroke-width="1.3" fill="#fcfdfc"/>
<ellipse cx="236.9" cy="792.6" rx="13.0" ry="7.0" transform="rotate(-3.0 236.9 792.6)" stroke="#000000" stroke-width="0.9" fill="none"/>
<ellipse cx="237.6" cy="789.8" rx="15.6" ry="9.0" transform="rotate(-3.0 237.6 789.8)" stroke="#000000" stroke-width="1.3" fill="#fcfdfc"/>
<ellipse cx="237.4" cy="788.6" rx="13.0" ry="7.0" transform="rotate(-3.0 237.4 788.6)" stroke="#000000" stroke-width="0.9" fill="none"/>
<ellipse cx="238.0" cy="785.8" rx="15.6" ry="9.0" transform="rotate(-3.0 238.0 785.8)" stroke="#000000" stroke-width="1.3" fill="#fcfdfc"/>
<ellipse cx="237.8" cy="784.6" rx="13.0" ry="7.0" transform="rotate(-3.0 237.8 784.6)" stroke="#000000" stroke-width="0.9" fill="none"/>
<ellipse cx="238.0" cy="786.0" rx="11.2" ry="6.0" transform="rotate(-3.0 238.0 786.0)" stroke="#000000" stroke-width="1.2" fill="#fcfdfc"/>
<ellipse cx="238.2" cy="786.8" rx="9.2" ry="4.6" transform="rotate(-3.0 238.2 786.8)" stroke="#000000" stroke-width="1.0" fill="none"/>
<ellipse cx="238.4" cy="787.6" rx="7.2" ry="3.4" transform="rotate(-3.0 238.4 787.6)" stroke="#000000" stroke-width="0.9" fill="none"/>
<path d="M238.6 785.5 L236.9 790.6" stroke="#000000" stroke-width="1.2"/>
<path d="M223.6 812.8 L247.6 827.6 Q249.9 828.6 249.2 830.4 Q248.4 831.4 246.6 830.6 L222.6 816" stroke="#000000" stroke-width="1.1" fill="#fcfdfc" />
<ellipse cx="248.4" cy="829.2" rx="1.4" ry="1.8" transform="rotate(30.0 248.4 829.2)" stroke="#000000" stroke-width="0.9" fill="none"/>
<path d="M253.0 796.8 L277.5 783.7" stroke="#000000" stroke-width="1.0"/>
<path d="M232.2 821.6 L226.8 851.8" stroke="#000000" stroke-width="0.9"/>
<path d="M157.7 916.7 L156.6 922.8 Q157 926.6 159.5 928.4 L202.4 951.3 Q204.5 952.4 206.3 951.9 L241.4 931.4 Q242.3 930.4 242.2 928.5 L242 924" stroke="#000000" stroke-width="1.1" fill="#fcfdfc" />
<path d="M159 913.6 L192 895 M226.7 911.6 L239.5 918 Q242.4 920.3 241.6 923.8 Q241 925 239.6 925.6 L208.8 942.3 Q205.5 943.2 203 942 L159.6 920 Q157.2 918.5 157.7 916.5 Q158 914.5 159 913.6" stroke="#000000" stroke-width="1.1" fill="#fcfdfc" />
<path d="M203.7 942.6 L203.7 951.3" stroke="#000000" stroke-width="1.0"/>
<ellipse cx="179.7" cy="913.9" rx="3.6" ry="2.1" transform="rotate(10.0 179.7 913.9)" stroke="#000000" stroke-width="1.0" fill="none"/>
<ellipse cx="205.0" cy="931.8" rx="3.4" ry="2.1" transform="rotate(10.0 205.0 931.8)" stroke="#000000" stroke-width="1.0" fill="none"/>
<path d="M218.2 927 L219 932.6 L222.4 934.8 L226.2 932.4 L225.6 926.6 L222 924.6 Z M222.4 929.5 L222.4 934.8 M218.2 927 L222.4 929.5 L225.6 926.6" stroke="#000000" stroke-width="0.9" fill="#fcfdfc" />
<path d="M224.4 924.8 L225.6 926.6 L226.2 932.4 L229.8 930 L229.3 924.4 L226 922.4 Z M229.8 930 L233 928 L232.4 922.4 L229 920.6 L226 922.4 M229.3 924.4 L232.4 922.4" stroke="#000000" stroke-width="0.9" fill="#fcfdfc" />
<path d="M208.2 887.3 L203.1 914.2 Q204 917.8 206.3 918.6 Q210 921 215.2 921.2 Q220.5 920.8 223.5 918 L224.2 916.7 L229.9 887.3" stroke="#000000" stroke-width="1.2" fill="#fcfdfc" />
<ellipse cx="219.4" cy="887.6" rx="10.5" ry="5.1" transform="rotate(-3.0 219.4 887.6)" stroke="#000000" stroke-width="1.2" fill="none"/>
<ellipse cx="219.4" cy="886.0" rx="10.5" ry="5.1" transform="rotate(-3.0 219.4 886.0)" stroke="#000000" stroke-width="1.3" fill="#fcfdfc"/>
<ellipse cx="220.2" cy="885.6" rx="7.6" ry="3.2" transform="rotate(-3.0 220.2 885.6)" stroke="#000000" stroke-width="1.0" fill="none"/>
<path d="M219 854.7 L214 884.4 Q219 887.6 226.7 885 L231.8 855.3" stroke="#000000" stroke-width="1.2" fill="#fcfdfc" />
<ellipse cx="225.4" cy="854.7" rx="6.3" ry="3.1" transform="rotate(-3.0 225.4 854.7)" stroke="#000000" stroke-width="1.3" fill="#fcfdfc"/>
<ellipse cx="225.4" cy="854.8" rx="2.6" ry="1.5" transform="rotate(-3.0 225.4 854.8)" stroke="#000000" stroke-width="1.0" fill="none"/>
<path d="M229.9 884.8 L255.5 870.8" stroke="#000000" stroke-width="1.0"/>
<path d="M166.0 889.2 L191.5 891.3" stroke="#000000" stroke-width="0.9"/>
<path d="M198.5 891.9 L276.5 898.4" stroke="#000000" stroke-width="0.9"/>
<path d="M281.2 898.8 L322.4 902.0" stroke="#000000" stroke-width="0.9"/>
<path d="M193.5 886.6 L196.8 886.9 M193 900.6 L196.4 900.9" stroke="#000000" stroke-width="1.0" fill="none" />
<ellipse cx="193.2" cy="893.6" rx="2.6" ry="7.0" transform="rotate(5.0 193.2 893.6)" stroke="#000000" stroke-width="1.2" fill="#fcfdfc"/>
<ellipse cx="196.6" cy="893.9" rx="2.6" ry="7.0" transform="rotate(5.0 196.6 893.9)" stroke="#000000" stroke-width="1.2" fill="#fcfdfc"/>
<ellipse cx="278.8" cy="898.6" rx="2.2" ry="3.8" transform="rotate(5.0 278.8 898.6)" stroke="#000000" stroke-width="1.3" fill="none"/>
<path d="M279.8 894.7 L305.5 879.8" stroke="#000000" stroke-width="1.0"/>
<path d="M324 899.2 L345 901.6 M323.8 904 L344.6 906.2" stroke="#000000" stroke-width="1.1" fill="none" />
<path d="M324 899.2 Q321.8 901.4 323.8 904" stroke="#000000" stroke-width="1.1" fill="none" />
<ellipse cx="345.6" cy="903.4" rx="2.0" ry="3.8" transform="rotate(5.0 345.6 903.4)" stroke="#000000" stroke-width="1.3" fill="none"/>
<path d="M334.3 900.6 L359.0 885.8" stroke="#000000" stroke-width="1.0"/>
<path d="M465.0 563.8 L552.0 714.3 L440.5 906.5" stroke="#000000" stroke-width="1.1" fill="none" />
<path d="M148.6 624.5 L177.0 641.2" stroke="#000000" stroke-width="0.9"/>
<path d="M188.5 647.9 L303.0 714.9" stroke="#000000" stroke-width="0.9"/>
</svg>
</body></html>
